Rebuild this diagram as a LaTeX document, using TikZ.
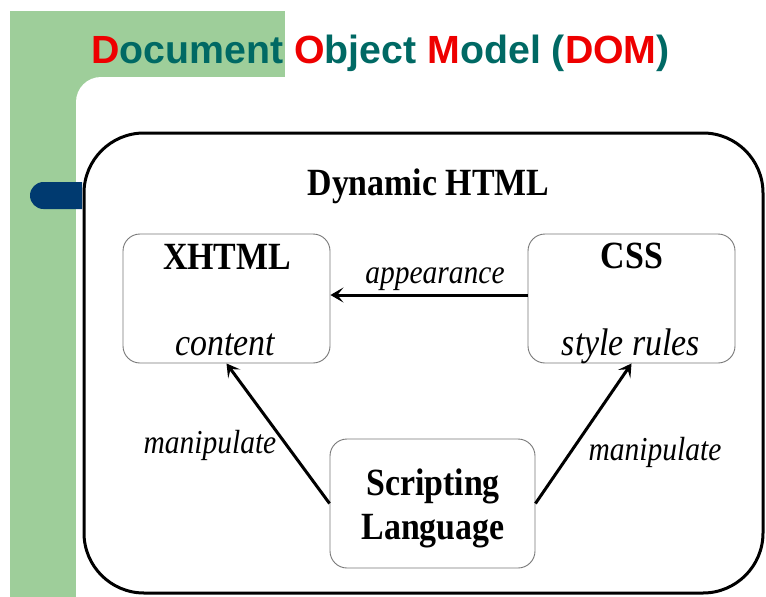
\documentclass[tikz,border=0pt]{standalone}
\usepackage{fontspec}
\usetikzlibrary{arrows.meta}
\newfontfamily\titlefont{Liberation Sans}
\newfontfamily\dhfont{Liberation Serif}[FakeStretch=0.88]
\definecolor{slidegreen}{RGB}{158,206,154}
\definecolor{slidenavy}{RGB}{0,58,112}
\definecolor{domteal}{RGB}{0,105,100}
\definecolor{domred}{RGB}{238,0,0}
\definecolor{boxgray}{RGB}{120,120,120}
\tikzset{
  panel/.style={draw, line width=3pt, rounded corners=60pt, minimum width=679pt, minimum height=460pt, inner sep=0pt},
  partbox/.style={draw=boxgray, line width=0.9pt, rounded corners=17pt, minimum width=207pt, minimum height=129pt, inner sep=0pt},
  boldlabel/.style={font=\dhfont\bfseries\fontsize{38.5}{44}\selectfont, inner sep=0pt},
  itlabel/.style={font=\dhfont\itshape\fontsize{38.5}{44}\selectfont, inner sep=0pt},
  edgelabel/.style={font=\dhfont\itshape\fontsize{33.5}{40}\selectfont, inner sep=0pt},
  flow/.style={line width=3pt, -{Stealth[length=13pt,width=15pt,inset=6pt]}}
}
\begin{document}
\begin{tikzpicture}[x=1pt,y=-1pt]
\useasboundingbox (0,0) rectangle (766,597);
\clip (0,0) rectangle (766,597);
% slide background: green L-shaped frame with white content area
\fill[slidegreen] (10,11) rectangle (285,620);
\fill[white, rounded corners=25pt] (76,77) rectangle (900,700);
% bullet tab
\fill[slidenavy] (82,182) -- (43.5,182) arc[start angle=270, end angle=90, radius=13.5] -- (82,209) -- cycle;
% title
\node[anchor=base west, inner sep=0pt, font=\titlefont\bfseries\fontsize{39.3}{48}\selectfont, text=domteal] (title) at (91,63)
  {\textcolor{domred}{D}ocument \textcolor{domred}{O}bject \textcolor{domred}{M}odel (\textcolor{domred}{DOM})};
% Dynamic HTML panel
\node[panel] (dhtml) at (423.5,363) {};
\node[boldlabel, anchor=base] (dhtmltitle) at (428.5,195) {Dynamic HTML};
% component boxes
\node[partbox] (xhtml) at (226.5,298.5) {};
\node[partbox] (css) at (631.5,298.5) {};
\node[partbox, minimum width=205pt] (script) at (432.5,503.5) {};
\node[boldlabel, anchor=base] (xhtmlname) at (227,269) {XHTML};
\node[itlabel, anchor=base] (xhtmlrole) at (225,355) {content};
\node[boldlabel, anchor=base] (cssname) at (632,268) {CSS};
\node[itlabel, anchor=base] (cssrole) at (631,355) {style rules};
\node[boldlabel, align=center] (scriptname) at (433,508) {Scripting\\Language};
% relations
\draw[flow] ([yshift=3.5pt]css.west) -- ([yshift=3.5pt]xhtml.east);
\draw[flow] (script.west) -- (xhtml.south);
\draw[flow] (script.east) -- (css.south);
\node[edgelabel, anchor=base] (applbl) at (435,283) {appearance};
\node[edgelabel, anchor=base] (manlbl1) at (210,453) {manipulate};
\node[edgelabel, anchor=base] (manlbl2) at (655,460) {manipulate};
\end{tikzpicture}
\end{document}
